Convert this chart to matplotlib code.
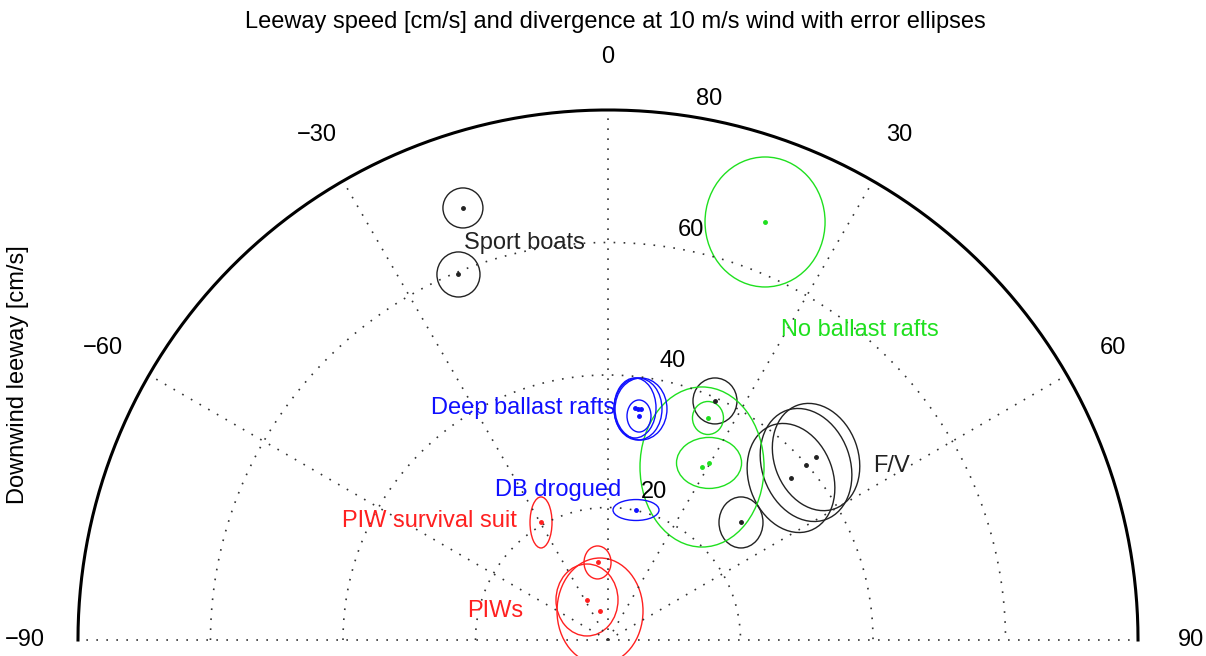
import numpy as np
import matplotlib.pyplot as plt
from matplotlib.patches import Ellipse

plt.rcParams['font.family'] = ['Liberation Sans', 'DejaVu Sans']

# leeway speed [cm/s] and divergence [deg] at 10 m/s wind, one entry per ellipse
speed = [68.79, 59.61, 39.53, 26.79, 36.89, 39.89, 41.82,
         67.40, 29.72, 30.77, 36.75,
         35.26, 35.16, 35.22, 34.13, 20.07,
         20.42, 11.81, 6.82, 4.54]
diverg = [-18.56, -22.25, 24.11, 48.53, 48.48, 48.53, 48.67,
          20.59, 28.52, 29.71, 24.24,
          6.64, 7.40, 8.13, 7.88, 12.16,
          -29.68, -7.69, -27.7, -15.4]
# error ellipse semi-axes [cm/s] (crosswind, downwind) and tilt [deg]
semi_x = [3.02, 3.25, 3.32, 3.32, 6.34, 6.64, 6.34,
          9.06, 9.36, 4.91, 2.34,
          3.17, 3.62, 3.92, 1.81, 3.47,
          1.66, 2.04, 4.68, 6.49]
semi_y = [3.02, 3.40, 3.47, 3.85, 8.45, 8.75, 8.30,
          9.81, 12.08, 3.85, 2.49,
          4.53, 4.68, 4.68, 2.42, 1.58,
          3.85, 2.49, 5.43, 8.00]
tilt = [0, 0, 0, 0, 20, 20, 20,
        0, 0, 0, 0,
        0, 0, 0, 0, 0,
        0, 0, 0, 0]
group = ['k'] * 7 + ['g'] * 4 + ['b'] * 5 + ['r'] * 4

colors = {'k': '#222222', 'g': '#1fe01f', 'b': '#1010ff', 'r': '#ff2020'}

labels = ['Sport boats', 'No ballast rafts', 'Deep ballast rafts', 'DB drogued',
          'PIW survival suit', 'PIWs', 'F/V']
label_group = ['k', 'g', 'b', 'b', 'r', 'r', 'k']
label_xy = [(-12.68, 59.92), (38.04, 46.79), (-12.83, 35.02), (-7.55, 22.64),
            (-27.02, 17.96), (-17.06, 4.38), (42.72, 26.26)]

rmax = 80
rings = [20, 40, 60]
spokes = [-90, -60, -30, 0, 30, 60, 90]

fig = plt.figure(figsize=(12.06, 6.56), dpi=100)
ax = fig.add_axes([0, 0, 1, 1])
ax.set_xlim(-91.77, 90.26)
ax.set_ylim(-2.415, 96.6)
ax.set_aspect('equal')
ax.axis('off')

fs = 17
grid_kw = dict(color='0.2', lw=1.2, ls=(0, (1, 5)))

# polar grid, 0 deg pointing up (downwind), clockwise positive
t = np.linspace(-np.pi / 2, np.pi / 2, 400)
for r in rings:
    ax.plot(r * np.sin(t), r * np.cos(t), **grid_kw)
for a in spokes:
    th = np.deg2rad(a)
    ax.plot([0, rmax * np.sin(th)], [0, rmax * np.cos(th)], **grid_kw)
ax.plot(rmax * np.sin(t), rmax * np.cos(t), color='k', lw=2.2)

for a in spokes:
    th = np.deg2rad(a)
    ax.text(1.1 * rmax * np.sin(th), 1.1 * rmax * np.cos(th), str(a).replace('-', '\u2212'),
            ha='center', va='center', fontsize=fs)
s8, c8 = np.sin(np.deg2rad(8)), np.cos(np.deg2rad(8))
for r in rings + [rmax]:
    ax.text(r * s8 + 4.2, r * c8 + 2.5, str(r), ha='center', va='center', fontsize=fs)

# error ellipses with mean leeway points
for i in range(len(speed)):
    th = np.deg2rad(diverg[i])
    x, y = speed[i] * np.sin(th), speed[i] * np.cos(th)
    c = colors[group[i]]
    ax.add_patch(Ellipse((x, y), 2 * semi_x[i], 2 * semi_y[i], angle=tilt[i],
                         fill=False, ec=c, lw=1.0))
    ax.plot(x, y, '.', color=c, ms=5)

for lab, g, (lx, ly) in zip(labels, label_group, label_xy):
    ax.text(lx, ly, lab, color=colors[g], ha='center', va='center', fontsize=fs)

fig.text(0.51, 1 - 22 / 656, 'Leeway speed [cm/s] and divergence at 10 m/s wind with error ellipses',
         ha='center', va='center', fontsize=fs)
fig.text(18 / 1206, 1 - 375 / 656, 'Downwind leeway [cm/s]', rotation=90,
         ha='center', va='center', fontsize=fs)

fig.savefig('out.png', dpi=100)
